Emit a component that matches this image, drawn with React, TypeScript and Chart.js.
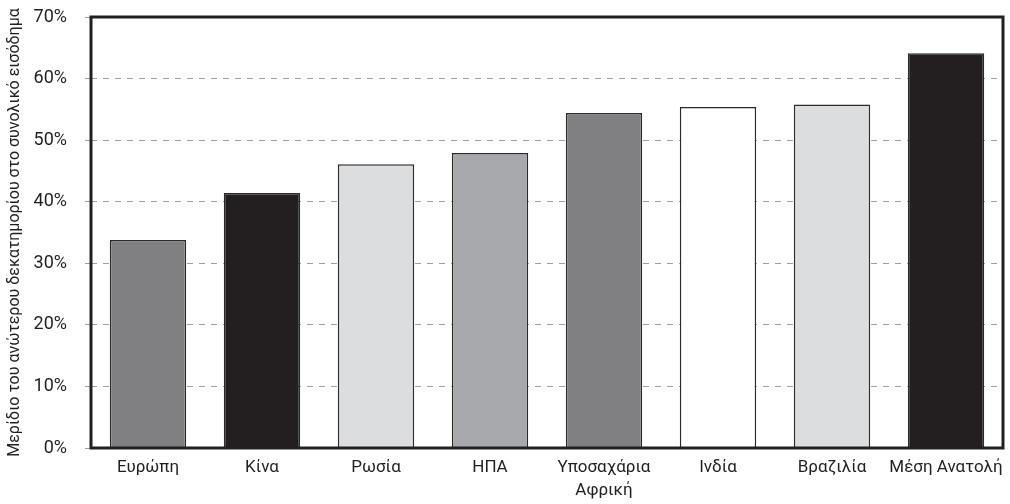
import React, { useEffect, useRef } from "react";
import { Chart, registerables } from "chart.js";

Chart.register(...registerables);

const categories: (string | string[])[] = [
  "Ευρώπη",
  "Κίνα",
  "Ρωσία",
  "ΗΠΑ",
  ["Υποσαχάρια", "Αφρική"],
  "Ινδία",
  "Βραζιλία",
  "Μέση Ανατολή",
];
const shares = [33.8, 41.4, 46.1, 47.9, 54.4, 55.4, 55.8, 64.1];
const barColors = [
  "#808083",
  "#231f20",
  "#dcdddf",
  "#a7a8ab",
  "#808083",
  "#ffffff",
  "#dcdddf",
  "#231f20",
];
const yTicks = [0, 10, 20, 30, 40, 50, 60, 70];
const yTitle = "Μερίδιο του ανώτερου δεκατημορίου στο συνολικό εισόδημα";

const FONT = "Roboto, sans-serif";

const framePlugin = {
  id: "frame",
  afterDatasetsDraw(chart: any) {
    const { ctx, chartArea } = chart;
    ctx.save();
    ctx.strokeStyle = "#231f20";
    ctx.lineWidth = 3;
    ctx.strokeRect(
      chartArea.left,
      chartArea.top,
      chartArea.right - chartArea.left,
      chartArea.bottom - chartArea.top
    );
    ctx.restore();
  },
};

export default function App() {
  const ref = useRef<HTMLCanvasElement | null>(null);

  useEffect(() => {
    document.body.style.margin = "0";
    if (!ref.current) return;
    const chart = new Chart(ref.current, {
      type: "bar",
      data: {
        labels: categories,
        datasets: [
          {
            data: shares,
            backgroundColor: barColors,
            borderColor: "#2a2a2a",
            borderWidth: 1.5,
            barPercentage: 1,
            categoryPercentage: 0.67,
          },
        ],
      },
      options: {
        animation: false,
        responsive: false,
        devicePixelRatio: 1,
        layout: { padding: { top: 17, right: 7, left: 0, bottom: 0 } },
        plugins: {
          legend: { display: false },
          tooltip: { enabled: false },
        },
        scales: {
          x: {
            grid: { display: false, drawTicks: false },
            border: { display: false },
            ticks: {
              color: "#231f20",
              font: { family: FONT, size: 17, lineHeight: 1.35 },
              padding: 8,
              maxRotation: 0,
              autoSkip: false,
            },
            afterFit(scale: any) {
              scale.height = 56;
              scale.paddingLeft = 0;
              scale.paddingRight = 0;
            },
          },
          y: {
            min: 0,
            max: 70,
            afterBuildTicks(scale: any) {
              scale.ticks = yTicks.map((v) => ({ value: v }));
            },
            grid: {
              color: "#a0a0a0",
              lineWidth: 1,
              tickLength: 6,
              tickColor: "#a0a0a0",
            },
            border: { display: false, dash: [6, 6] },
            ticks: {
              color: "#231f20",
              font: { family: FONT, size: 18 },
              padding: 18,
              callback: (v: any) => v + "%",
            },
            title: {
              display: true,
              text: yTitle,
              color: "#231f20",
              font: { family: FONT, size: 16 },
              padding: { top: 5, bottom: 0 },
            },
            afterFit(scale: any) {
              scale.width = 91;
              scale.paddingTop = 0;
              scale.paddingBottom = 0;
            },
          },
        },
      },
      plugins: [framePlugin],
    });
    return () => chart.destroy();
  }, []);

  return (
    <div style={{ width: 1010, height: 504 }}>
      <canvas ref={ref} width={1010} height={504} />
    </div>
  );
}
